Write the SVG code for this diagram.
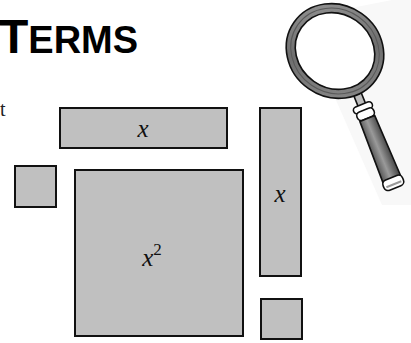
<svg xmlns="http://www.w3.org/2000/svg" width="411" height="343" viewBox="0 0 411 343">
  <style>
    .tile { fill: #c0c0c0; stroke: #111; stroke-width: 2; }
    .var { font-family: 'Liberation Serif', 'Times New Roman', serif; font-style: italic; font-size: 25px; fill: #111; }
    .title { font-family: 'Liberation Sans', Arial, sans-serif; font-weight: bold; fill: #000; }
    .ink { stroke: #111; stroke-width: 1.6; stroke-linejoin: round; }
  </style>
  <defs>
    <linearGradient id="ringGrad" x1="0" y1="0" x2="1" y2="1">
      <stop offset="0" stop-color="#9a9a9a"/>
      <stop offset="0.5" stop-color="#6e6e6e"/>
      <stop offset="1" stop-color="#8c8c8c"/>
    </linearGradient>
    <linearGradient id="handleGrad" x1="0" y1="0" x2="1" y2="0">
      <stop offset="0" stop-color="#555"/>
      <stop offset="0.45" stop-color="#9a9a9a"/>
      <stop offset="1" stop-color="#444"/>
    </linearGradient>
  </defs>

  <rect width="411" height="343" fill="#fff"/>

  <!-- heading in small caps -->
  <g id="heading">
    <text class="title" x="-1" y="53"><tspan font-size="48">T</tspan><tspan font-size="38">ERMS</tspan></text>
    <text x="0" y="116" font-family="'Liberation Serif', serif" font-size="20" fill="#222">t</text>
  </g>

  <!-- faint backdrop behind the lens -->
  <path d="M300,18 L392,0 L411,0 L411,205 L382,205 Z" fill="#f8f8f8"/>

  <!-- magnifying glass -->
  <g id="magnifier">
    <g transform="translate(359,98) rotate(-22)">
      <rect x="-4" y="-4" width="8" height="12" fill="#bbb" class="ink"/>
      <rect x="-10" y="7" width="20" height="7" rx="3.5" fill="#fff" class="ink"/>
      <rect x="-9" y="13" width="18" height="9" rx="4" fill="#fff" class="ink"/>
      <path d="M-8,22 L8,22 L9.5,88 L-9.5,88 Z" fill="url(#handleGrad)" class="ink"/>
      <rect x="-10.5" y="86" width="21" height="11" rx="4.5" fill="#fff" class="ink"/>
      <path d="M-8,93 L8,93" stroke="#999" stroke-width="2"/>
    </g>
    <g transform="translate(335,51) rotate(35)">
      <ellipse cx="0" cy="0" rx="50" ry="46" fill="url(#ringGrad)" class="ink" stroke-width="2"/>
      <ellipse cx="0" cy="0" rx="41" ry="37" fill="#fff" class="ink" stroke-width="2"/>
      <ellipse cx="0" cy="0" rx="45.5" ry="41.5" fill="none" stroke="#5a5a5a" stroke-width="1"/>
    </g>
  </g>

  <!-- algebra tiles -->
  <g id="tile-x-horizontal">
    <rect class="tile" x="60" y="108" width="167" height="40"/>
    <text class="var" x="143" y="137" text-anchor="middle">x</text>
  </g>
  <g id="tile-unit-left">
    <rect class="tile" x="15" y="166" width="41" height="41"/>
  </g>
  <g id="tile-x-squared">
    <rect class="tile" x="75" y="170" width="168" height="166"/>
    <text class="var" x="152" y="266" text-anchor="middle">x<tspan font-style="normal" font-size="17" dy="-11">2</tspan></text>
  </g>
  <g id="tile-x-vertical">
    <rect class="tile" x="260" y="108" width="41" height="168"/>
    <text class="var" x="280" y="202" text-anchor="middle">x</text>
  </g>
  <g id="tile-unit-right">
    <rect class="tile" x="261" y="299" width="41" height="40"/>
  </g>

  <g id="connectors"/>
</svg>
